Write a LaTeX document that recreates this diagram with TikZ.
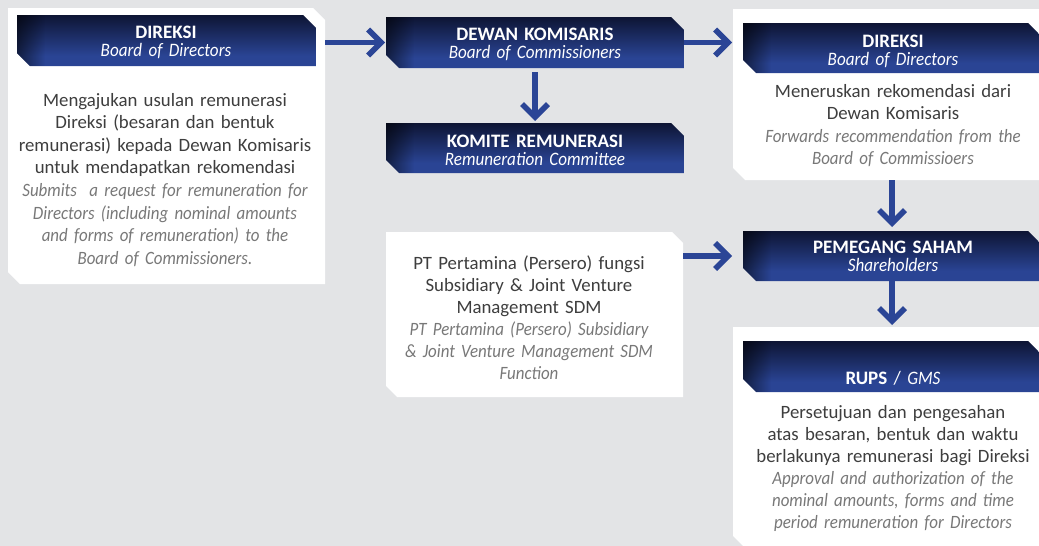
\documentclass[tikz,border=0pt]{standalone}
\usepackage{fontspec}
\setmainfont{Carlito}[WordSpace=0.85, ItalicFeatures={FakeStretch=0.9}]
\usetikzlibrary{arrows.meta,fadings}
\pgfdeclarelayer{back}\pgfdeclarelayer{low}\pgfdeclarelayer{mid}
\pgfsetlayers{back,low,mid,main}
\definecolor{bg}{RGB}{227,228,230}
\definecolor{navyT}{RGB}{10,15,40}
\definecolor{navyB}{RGB}{42,68,148}
\definecolor{arr}{RGB}{43,69,150}
\definecolor{txt}{RGB}{62,62,62}
\definecolor{itx}{RGB}{120,120,120}
\pgfdeclareverticalshading{hdshade}{100bp}{color(0bp)=(navyB); color(35bp)=(navyB); color(80bp)=(navyT); color(100bp)=(navyT)}
\tikzset{
  frame/.style={draw=none, inner sep=0pt, outer sep=0pt, rectangle},
  flow/.style={draw=arr, line width=5.5pt, -{Straight Barb[length=13pt,width=26pt]}},
  hdtext/.style={anchor=base, inner sep=0pt, text=white, align=center, text width=290pt, font=\fontsize{19}{18}\selectfont},
  body/.style={anchor=base, inner sep=0pt, text=txt, align=center, text width=340pt, font=\fontsize{18.8}{22.6}\selectfont},
}
\newcommand{\cutshape}[3]{#3 (#1.north west) -- ([xshift=-#2pt]#1.north east) -- ([yshift=-#2pt]#1.north east) -- (#1.south east) -- ([xshift=#2pt]#1.south west) -- ([yshift=#2pt]#1.south west) -- cycle;}
\newcommand{\header}[1]{%
  \begin{scope}
    \cutshape{#1}{13}{\path[clip]}
    \shade[shading=hdshade] (#1.north west) rectangle (#1.south east);
    \fill[black, opacity=0.55, path fading=east] (#1.north west) rectangle ([xshift=28pt]#1.south west);
  \end{scope}}
\begin{document}
\begin{tikzpicture}[x=1pt,y=-1pt]
\useasboundingbox (0,0) rectangle (1039,546);
\begin{pgfonlayer}{back}
  \fill[bg] (0,0) rectangle (1039,546);
\end{pgfonlayer}

% white boxes
\node[frame, minimum width=317pt, minimum height=276pt] (b1) at (166.5,146) {};
\node[frame, minimum width=319pt, minimum height=171pt] (b3) at (892.5,94.5) {};
\node[frame, minimum width=297pt, minimum height=165pt] (bpt) at (534.5,314.5) {};
\node[frame, minimum width=319pt, minimum height=221pt] (brups) at (892.5,437.5) {};
% headers
\node[frame, minimum width=299pt, minimum height=51pt] (hd1) at (166.5,40.5) {};
\node[frame, minimum width=298pt, minimum height=51pt] (hd2) at (535,42.5) {};
\node[frame, minimum width=298pt, minimum height=50pt] (hd3) at (535,148) {};
\node[frame, minimum width=298pt, minimum height=50pt] (hd4) at (892,48) {};
\node[frame, minimum width=298pt, minimum height=50pt] (hd5) at (892,256) {};
\node[frame, minimum width=298pt, minimum height=51pt] (hd6) at (892,366.5) {};

\begin{pgfonlayer}{low}
  \cutshape{b1}{12}{\fill[white]}
  \cutshape{b3}{12}{\fill[white]}
  \cutshape{bpt}{11}{\fill[white]}
  \cutshape{brups}{12}{\fill[white]}
\end{pgfonlayer}
\begin{pgfonlayer}{mid}
  \header{hd1}\header{hd2}\header{hd3}\header{hd4}\header{hd5}\header{hd6}
\end{pgfonlayer}

% header texts
\node[hdtext] (t1) at (166,38) {\textbf{DIREKSI}\\\textit{Board of Directors}};
\node[hdtext] (t2) at (535,40.5) {\textbf{DEWAN KOMISARIS}\\\textit{Board of Commissioners}};
\node[hdtext] (t3) at (535,147) {\textbf{KOMITE REMUNERASI}\\\textit{Remuneration Committee}};
\node[hdtext] (t4) at (893,47) {\textbf{DIREKSI}\\\textit{Board of Directors}};
\node[hdtext] (t5) at (893,253) {\textbf{PEMEGANG SAHAM}\\\textit{Shareholders}};
\node[hdtext] (t6) at (893,384) {\textbf{RUPS} / \textit{GMS}};

% body texts
\node[body] (x1) at (165,106) {Mengajukan usulan remunerasi\\Direksi (besaran dan bentuk\\remunerasi) kepada Dewan Komisaris\\untuk mendapatkan rekomendasi\\
\color{itx}\itshape Submits\ \ a request for remuneration for\\\color{itx}\itshape Directors (including nominal amounts\\\color{itx}\itshape and forms of remuneration) to the\\\color{itx}\itshape Board of Commissioners.};
\node[body] (x3) at (893,97) {Meneruskan rekomendasi dari\\Dewan Komisaris\\
\color{itx}\itshape Forwards recommendation from the\\\color{itx}\itshape Board of Commissioers};
\node[body, font=\fontsize{18.8}{22}\selectfont] (xpt) at (529,269) {PT Pertamina (Persero) fungsi\\Subsidiary \& Joint Venture\\Management SDM\\
\color{itx}\itshape PT Pertamina (Persero) Subsidiary\\\color{itx}\itshape \& Joint Venture Management SDM\\\color{itx}\itshape Function};
\node[body, font=\fontsize{18.8}{22}\selectfont] (xr) at (893,418) {Persetujuan dan pengesahan\\atas besaran, bentuk dan waktu\\berlakunya remunerasi bagi Direksi\\
\color{itx}\itshape Approval and authorization of the\\\color{itx}\itshape nominal amounts, forms and time\\\color{itx}\itshape period remuneration for Directors};

% connectors
\draw[flow] (b1.east |- hd2.west) -- ([xshift=-1pt]hd2.west);
\draw[flow, shorten <=4pt, shorten >=2pt] (hd2.south) -- (hd3.north);
\draw[flow, shorten >=1pt] (hd2.east) -- (b3.west |- hd2.east);
\draw[flow, shorten >=4pt] (hd5.north |- b3.south) -- (hd5.north);
\draw[flow, shorten >=2pt] (hd5.south) -- (hd5.south |- brups.north);
\draw[flow, shorten >=1pt] (bpt.east |- hd5.west) -- (brups.west |- hd5.west);
\end{tikzpicture}
\end{document}
